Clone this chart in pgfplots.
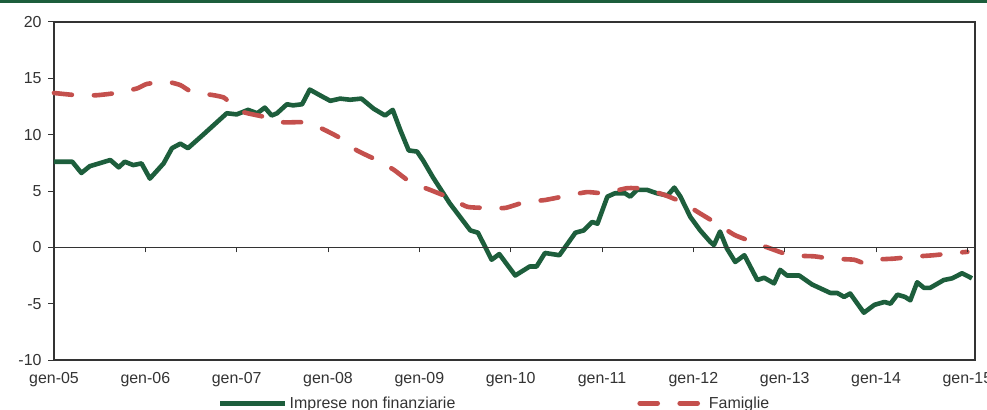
\documentclass[border=0pt]{standalone}
\usepackage{fontspec}
\setmainfont{Liberation Sans}
\usepackage{pgfplots}
\pgfplotsset{compat=1.18}
\definecolor{dgreen}{HTML}{1D5E3C}
\definecolor{dred}{HTML}{C4504D}
\definecolor{txt}{HTML}{333333}
\begin{document}
\begin{tikzpicture}
\begin{axis}[
  name=ax,
  scale only axis,
  width=921bp, height=338bp,
  xmin=0, xmax=121, ymin=-10, ymax=20,
  ytick={-10,-5,0,5,10,15,20},
  xtick={0,12,24,36,48,60,72,84,96,108,120},
  xticklabels={gen-05,gen-06,gen-07,gen-08,gen-09,gen-10,gen-11,gen-12,gen-13,gen-14,gen-15},
  x tick style={draw=none},
  ytick pos=left,
  tick align=outside,
  major tick length=6bp,
  y tick style={line width=1bp, color=txt},
  axis line style={line width=1.4bp, color=txt},
  ticklabel style={font=\fontsize{16}{18}\selectfont, color=txt},
  /pgf/number format/assume math mode=true,
  yticklabel style={xshift=-3bp},
  xticklabel style={yshift=-3bp},
  clip=false,
  legend columns=2,
  legend style={draw=none, fill=none, at={(0.178,-0.128)}, anchor=west, inner sep=0pt,
    font=\fontsize{16}{18}\selectfont, text=txt},
  /tikz/every even column/.append style={column sep=180bp},
  legend image code/.code={\draw[#1] (0bp,0bp) -- (65bp,0bp);},
]
\addplot[dgreen, line width=4.6bp, line join=round] coordinates {
(0,7.6)(2.4,7.6)(3.6,6.6)(4.7,7.2)(7.4,7.75)(8.5,7.1)(9.3,7.6)(10.4,7.3)(11.5,7.45)(12.6,6.1)(14.4,7.45)(15.5,8.8)(16.6,9.2)(17.6,8.8)(19.6,10.0)(22.7,11.9)(24,11.8)(25.5,12.2)(26.7,11.9)(27.7,12.4)(28.6,11.7)(29.3,11.9)(30.6,12.7)(31.4,12.6)(32.6,12.7)(33.6,14.0)(35.2,13.4)(36.3,13.0)(37.6,13.2)(38.9,13.1)(40.4,13.2)(42,12.3)(43.5,11.7)(44.5,12.2)(45.5,10.4)(46.6,8.6)(47.7,8.5)(48.5,7.7)(49.8,6.2)(52,3.9)(54.7,1.5)(55.7,1.3)(57.5,-1.1)(58.5,-0.6)(60.6,-2.5)(62.5,-1.7)(63.4,-1.7)(64.5,-0.5)(66.4,-0.7)(68.5,1.3)(69.6,1.5)(70.7,2.25)(71.4,2.1)(72.7,4.5)(73.7,4.8)(75,4.8)(75.7,4.5)(76.6,5.1)(77.9,5.1)(79.2,4.8)(80.6,4.6)(81.5,5.3)(82.3,4.5)(83.6,2.7)(84.9,1.5)(86.2,0.5)(86.7,0.2)(87.5,1.4)(88.4,-0.1)(89.5,-1.3)(90.7,-0.7)(92.4,-2.9)(93.3,-2.7)(94.6,-3.2)(95.4,-2.0)(96.3,-2.5)(97.9,-2.5)(99.6,-3.3)(102,-4.05)(102.9,-4.05)(103.8,-4.4)(104.6,-4.1)(106.4,-5.8)(107.8,-5.1)(109.1,-4.85)(109.9,-5.0)(110.8,-4.2)(111.8,-4.4)(112.5,-4.7)(113.4,-3.1)(114.3,-3.6)(115.1,-3.6)(116.9,-2.9)(118,-2.75)(119.3,-2.3)(120.6,-2.75)
};
\addlegendentry{Imprese non finanziarie}
\addplot[dred, line width=4.6bp, line cap=round, dash pattern=on 18bp off 22bp, smooth, tension=0.3] coordinates {
(0,13.7)(3,13.5)(5.6,13.5)(8.2,13.7)(10.9,14.1)(12.2,14.5)(14.8,14.7)(16.6,14.4)(18.1,13.8)(21,13.5)(22.3,13.3)(23.2,12.8)(24.9,12.0)(27.5,11.6)(30.1,11.1)(32.6,11.1)(35,10.6)(37.6,9.7)(39.8,8.6)(42.4,7.75)(44.6,6.9)(46.8,5.8)(49.4,5.1)(51.6,4.5)(54.3,3.6)(56.9,3.5)(59.3,3.5)(61.8,4.0)(64.5,4.2)(66.8,4.5)(70,4.9)(72.3,4.8)(75.3,5.25)(77.5,5.2)(80.2,4.65)(82.5,4.0)(84.9,3.0)(87.1,2.1)(89.4,1.1)(91.7,0.5)(94.1,-0.1)(96.7,-0.7)(99.9,-0.8)(102,-1.0)(105.1,-1.1)(106.4,-1.4)(107.8,-1.1)(110.4,-1.0)(112.5,-0.85)(115.6,-0.7)(118.3,-0.5)(120,-0.4)
};
\addlegendentry{Famiglie}
\end{axis}
\begin{axis}[
  at={(ax.south west)}, anchor=south west,
  scale only axis,
  width=921bp, height=338bp,
  xmin=0, xmax=121, ymin=-10, ymax=20,
  axis x line=middle, axis y line=none,
  axis line style={-, line width=1.2bp, color=txt},
  xtick={0,12,24,36,48,60,72,84,96,108,120},
  xticklabels={},
  tick align=outside,
  major tick length=5bp,
  x tick style={line width=1bp, color=txt},
]
\end{axis}
\fill[dgreen] ([xshift=-54bp,yshift=22bp]ax.north west) rectangle ([xshift=12bp,yshift=18.5bp]ax.north east);
\pgfresetboundingbox
\path ([xshift=-54bp,yshift=-50bp]ax.south west) rectangle ([xshift=12bp,yshift=22bp]ax.north east);
\end{tikzpicture}
\end{document}
